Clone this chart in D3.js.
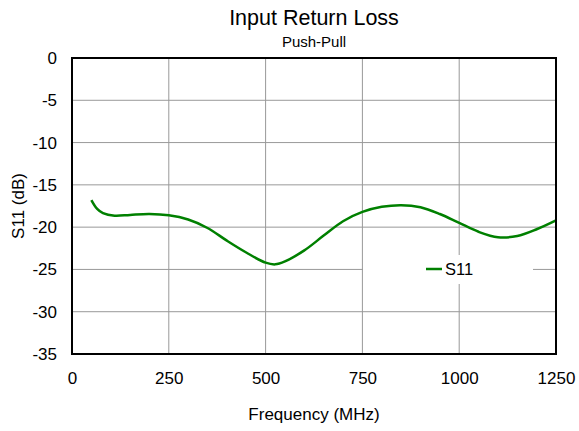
<!DOCTYPE html>
<html><head><meta charset="utf-8">
<script src="https://cdn.jsdelivr.net/npm/d3@7"></script>
<style>body{margin:0;background:#fff;font-family:"Liberation Sans",Arial,sans-serif;}</style>
</head><body><svg id="c" width="579" height="431"></svg>
<script>
const freq = [50,65,80,110,150,200,250,300,350,400,450,500,525,550,600,650,700,750,800,850,900,950,1000,1050,1100,1150,1200,1250];
const s11  = [-16.8,-17.85,-18.35,-18.65,-18.55,-18.45,-18.6,-19.1,-20.1,-21.6,-23.0,-24.2,-24.4,-24.05,-22.75,-21.0,-19.3,-18.2,-17.6,-17.4,-17.65,-18.45,-19.5,-20.55,-21.2,-21.05,-20.25,-19.2];
const xTicks = [0,250,500,750,1000,1250];
const yTicks = [0,-5,-10,-15,-20,-25,-30,-35];
const seriesName = "S11";

const svg = d3.select("#c");
const L=72,R=556,T=58,B=354;
const x = d3.scaleLinear().domain([0,1250]).range([L,R]);
const y = d3.scaleLinear().domain([-35,0]).range([B,T]);
const font = "Liberation Sans, Arial, sans-serif";

// grid
svg.append("g").selectAll("line.v").data(xTicks.slice(1,-1)).join("line")
  .attr("x1",d=>x(d)).attr("x2",d=>x(d)).attr("y1",T).attr("y2",B)
  .attr("stroke","#999").attr("stroke-width",1);
svg.append("g").selectAll("line.h").data(yTicks.slice(1,-1)).join("line")
  .attr("x1",L).attr("x2",R).attr("y1",d=>y(d)).attr("y2",d=>y(d))
  .attr("stroke","#999").attr("stroke-width",1);

// legend background
svg.append("rect").attr("x",363).attr("y",255).attr("width",170).attr("height",29).attr("fill","#fff");

// curve
const line = d3.line().x((d,i)=>x(freq[i])).y(d=>y(d)).curve(d3.curveCatmullRom.alpha(0.5));
svg.append("path").datum(s11).attr("d",line).attr("fill","none")
  .attr("stroke","#008000").attr("stroke-width",2.5).attr("stroke-linejoin","round");

// frame
svg.append("rect").attr("x",L).attr("y",T).attr("width",R-L).attr("height",B-T)
  .attr("fill","none").attr("stroke","#000").attr("stroke-width",2);

// axes labels via d3 axes
const xa = svg.append("g").attr("transform",`translate(0,${B})`)
  .call(d3.axisBottom(x).tickValues(xTicks).tickSize(0).tickPadding(18).tickFormat(d3.format("d")));
xa.select(".domain").remove();
xa.selectAll("text").attr("font-family",font).attr("font-size",17).attr("fill","#000");
const ya = svg.append("g").attr("transform",`translate(${L},0)`)
  .call(d3.axisLeft(y).tickValues(yTicks).tickSize(0).tickPadding(15).tickFormat(d=>d3.format("d")(d).replace("−","-")));
ya.select(".domain").remove();
ya.selectAll("text").attr("font-family",font).attr("font-size",17).attr("fill","#000");

// titles
svg.append("text").attr("x",314).attr("y",25).attr("text-anchor","middle")
  .attr("font-family",font).attr("font-size",21.5).text("Input Return Loss");
svg.append("text").attr("x",314).attr("y",47).attr("text-anchor","middle")
  .attr("font-family",font).attr("font-size",15).text("Push-Pull");
svg.append("text").attr("x",314).attr("y",420).attr("text-anchor","middle")
  .attr("font-family",font).attr("font-size",17).text("Frequency (MHz)");
svg.append("text").attr("transform","translate(24,206) rotate(-90)").attr("text-anchor","middle")
  .attr("font-family",font).attr("font-size",17).text("S11 (dB)");

// legend
svg.append("line").attr("x1",426).attr("x2",442).attr("y1",269).attr("y2",269)
  .attr("stroke","#008000").attr("stroke-width",2.5);
svg.append("text").attr("x",445).attr("y",275).attr("font-family",font).attr("font-size",16.5).text(seriesName);
</script></body></html>
